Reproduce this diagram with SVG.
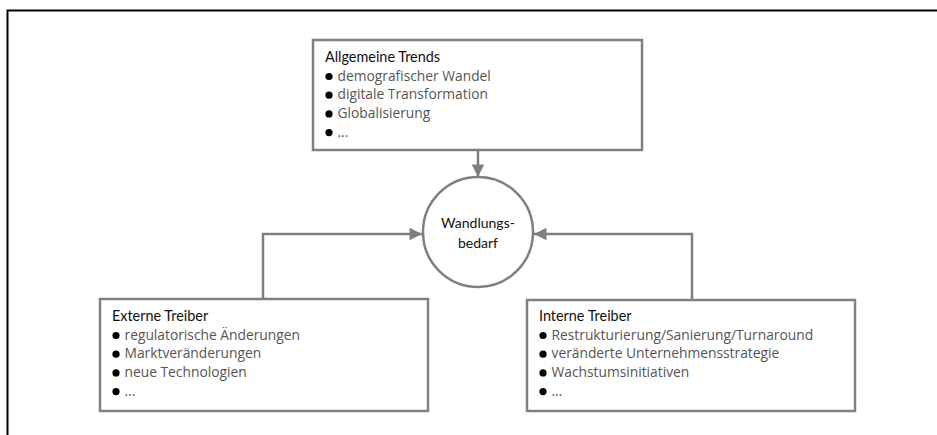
<svg xmlns="http://www.w3.org/2000/svg" width="937" height="435" viewBox="0 0 937 435">
<defs>
<marker id="arr" viewBox="0 0 10 10" refX="10" refY="5" markerWidth="5.8" markerHeight="5" markerUnits="strokeWidth" orient="auto">
<path d="M0,0 L10,5 L0,10 Z" fill="#7f7f7f"/>
</marker>
<style>
.box{fill:#fff;stroke:#808080;stroke-width:2.5}
.head{font-family:Lato,"Liberation Sans",sans-serif;font-size:14.4px;fill:#111}
.item{font-family:"Open Sans","Liberation Sans",sans-serif;font-size:13.8px;fill:#555}
.bul{fill:#000}
.conn{fill:none;stroke:#7f7f7f;stroke-width:2.5}
.ctext{font-family:Lato,"Liberation Sans",sans-serif;font-size:14px;fill:#111;text-anchor:middle}
</style>
</defs>
<rect width="937" height="435" fill="#fff"/>
<path d="M7.5,435 V10.5 H937" fill="none" stroke="#000" stroke-width="2"/>
<g id="connectors">
<path class="conn" d="M478,151 V177" marker-end="url(#arr)"/>
<path class="conn" d="M263,298 V234 H422" marker-end="url(#arr)"/>
<path class="conn" d="M692,299 V234 H534" marker-end="url(#arr)"/>
</g>
<g id="trends">
<rect class="box" x="313" y="40" width="329" height="110"/>
<text class="head" x="325" y="62">Allgemeine Trends</text>
<circle class="bul" cx="329" cy="76.5" r="3.6"/>
<circle class="bul" cx="329" cy="95.2" r="3.6"/>
<circle class="bul" cx="329" cy="113.9" r="3.6"/>
<circle class="bul" cx="329" cy="132.6" r="3.6"/>
<text class="item" x="337.5" y="80.7">demografischer Wandel</text>
<text class="item" x="337.5" y="99.4">digitale Transformation</text>
<text class="item" x="337.5" y="118.1">Globalisierung</text>
<text class="item" x="337.5" y="136.8">...</text>
</g>
<g id="wandlungsbedarf">
<circle cx="478" cy="232" r="55" fill="#fff" stroke="#808080" stroke-width="2.5"/>
<text class="ctext" x="478" y="228">Wandlungs-</text>
<text class="ctext" x="478" y="248">bedarf</text>
</g>
<g id="extern">
<rect class="box" x="100" y="299" width="328" height="112"/>
<text class="head" x="112" y="321">Externe Treiber</text>
<circle class="bul" cx="116" cy="335.5" r="3.6"/>
<circle class="bul" cx="116" cy="354.2" r="3.6"/>
<circle class="bul" cx="116" cy="372.9" r="3.6"/>
<circle class="bul" cx="116" cy="391.6" r="3.6"/>
<text class="item" x="124.5" y="339.7">regulatorische Änderungen</text>
<text class="item" x="124.5" y="358.4">Marktveränderungen</text>
<text class="item" x="124.5" y="377.1">neue Technologien</text>
<text class="item" x="124.5" y="395.8">...</text>
</g>
<g id="intern">
<rect class="box" x="527" y="300" width="328" height="111"/>
<text class="head" x="539" y="321">Interne Treiber</text>
<circle class="bul" cx="543" cy="335.5" r="3.6"/>
<circle class="bul" cx="543" cy="354.2" r="3.6"/>
<circle class="bul" cx="543" cy="372.9" r="3.6"/>
<circle class="bul" cx="543" cy="391.6" r="3.6"/>
<text class="item" x="551.5" y="339.7">Restrukturierung/Sanierung/Turnaround</text>
<text class="item" x="551.5" y="358.4">veränderte Unternehmensstrategie</text>
<text class="item" x="551.5" y="377.1">Wachstumsinitiativen</text>
<text class="item" x="551.5" y="395.8">...</text>
</g>
</svg>
